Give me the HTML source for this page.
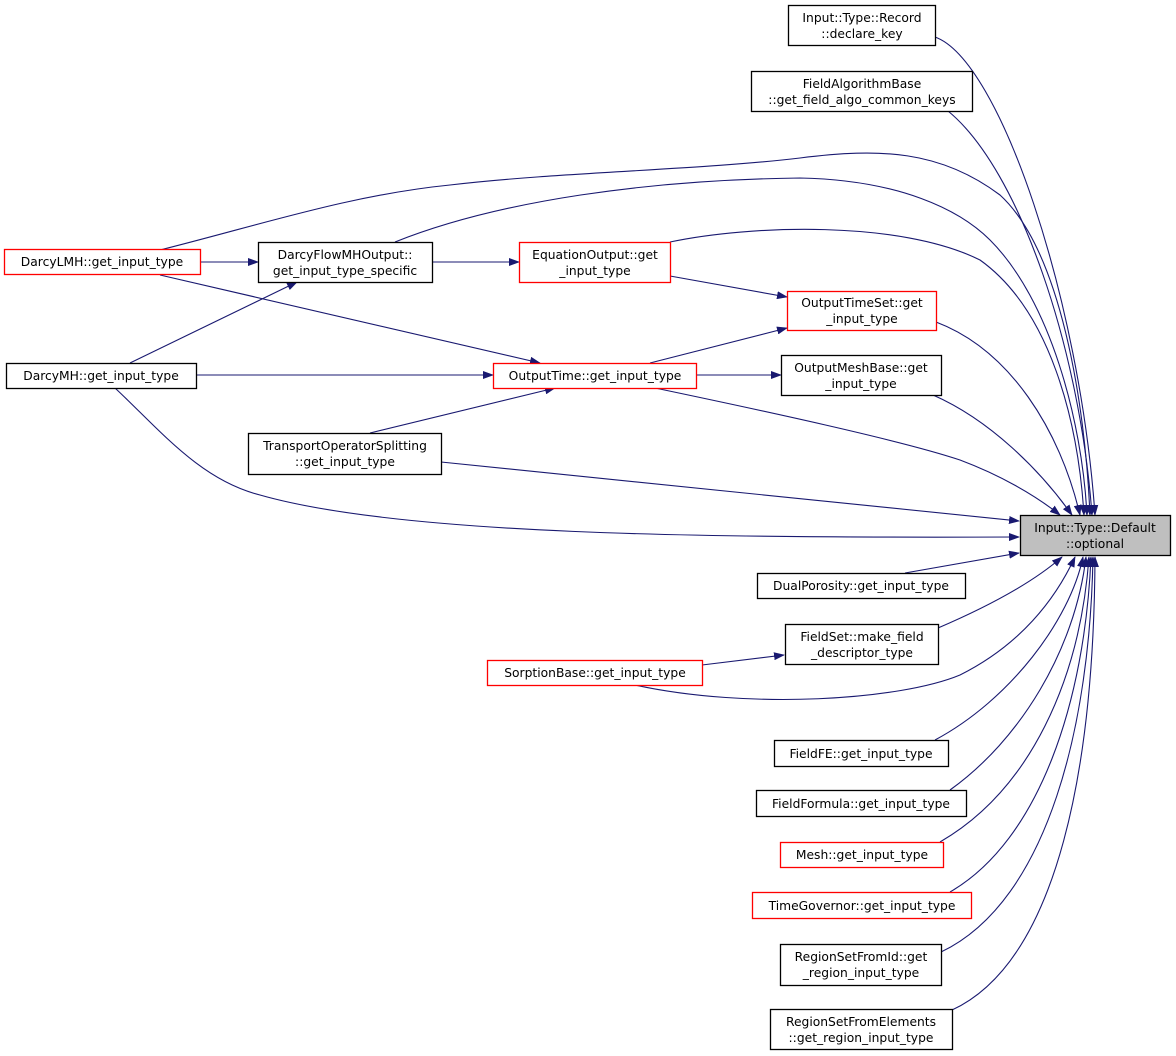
<!DOCTYPE html>
<html><head><meta charset="utf-8"><style>
html,body{margin:0;padding:0;background:#fff;}
svg{display:block;}
text{font-family:"DejaVu Sans","Liberation Sans",sans-serif;font-size:12.3px;fill:#000;}
</style></head><body>
<svg width="1176" height="1056" viewBox="0 0 1176 1056" xmlns="http://www.w3.org/2000/svg">
<defs>
<marker id="a" markerWidth="11" markerHeight="8" refX="10" refY="4" orient="auto" markerUnits="userSpaceOnUse">
<path d="M0,0 L11,4 L0,8 z" fill="#191970"/>
</marker>
</defs>
<g fill="none" stroke="#191970" stroke-width="1.1" marker-end="url(#a)">
<path d="M935,37 C1000,60 1080,300 1095,515"/>
<path d="M948,111 C1020,170 1080,350 1092,515"/>
<path d="M160,250 C260,225 350,195 450,185 C560,172 700,170 800,158 C880,148 940,150 1000,195 C1060,250 1085,400 1090,515"/>
<path d="M395,242 C500,200 650,180 800,178 C900,180 960,210 990,240 C1050,300 1082,420 1087,515"/>
<path d="M670,242 C750,225 900,220 980,260 C1050,310 1078,420 1084,515"/>
<path d="M936,322 C1010,350 1060,430 1080,515"/>
<path d="M933,395 C990,420 1040,470 1072,515"/>
<path d="M655,388 C760,410 900,440 960,460 C1000,475 1035,495 1060,515"/>
<path d="M441,462 L1019,521"/>
<path d="M115,388 C160,430 200,480 260,495 C400,535 700,538 1019,537"/>
<path d="M905,573 L1019,553"/>
<path d="M938,628 C980,610 1030,585 1062,557"/>
<path d="M635,685 C750,710 900,700 960,675 C1020,645 1055,600 1075,557"/>
<path d="M935,740 C1010,700 1070,620 1083,557"/>
<path d="M950,790 C1020,740 1075,650 1086,557"/>
<path d="M940,842 C1030,790 1080,680 1089,557"/>
<path d="M950,892 C1040,840 1085,700 1091,557"/>
<path d="M941,952 C1050,900 1090,720 1093,557"/>
<path d="M952,1010 C1060,960 1094,760 1095,557"/>
<path d="M201,262 L258,262"/>
<path d="M432,262 L519,262"/>
<path d="M670,276 L787,297"/>
<path d="M650,363 L787,328"/>
<path d="M130,363 L297,282"/>
<path d="M160,275 L540,363"/>
<path d="M197,375 L493,375"/>
<path d="M696,375 L781,375"/>
<path d="M370,433 L555,388"/>
<path d="M702,665 L784,655"/>
</g>
<g stroke-width="1.3" fill="#fff">
<rect x="788.5" y="5.5" width="147" height="40" stroke="#000"/>
<rect x="751.5" y="71.5" width="221" height="40" stroke="#000"/>
<rect x="4.5" y="249.5" width="196" height="25" stroke="#f00"/>
<rect x="258.5" y="242.5" width="174" height="40" stroke="#000"/>
<rect x="519.5" y="242.5" width="151" height="40" stroke="#f00"/>
<rect x="787.5" y="291.5" width="149" height="39" stroke="#f00"/>
<rect x="6.5" y="363.5" width="190" height="25" stroke="#000"/>
<rect x="493.5" y="363.5" width="203" height="25" stroke="#f00"/>
<rect x="781.5" y="355.5" width="160" height="40" stroke="#000"/>
<rect x="248.5" y="433.5" width="193" height="41" stroke="#000"/>
<rect x="1020.5" y="515.5" width="150" height="40" stroke="#000" fill="#bfbfbf"/>
<rect x="757.5" y="573.5" width="208" height="25" stroke="#000"/>
<rect x="785.5" y="624.5" width="153" height="40" stroke="#000"/>
<rect x="487.5" y="660.5" width="215" height="25" stroke="#f00"/>
<rect x="774.5" y="740.5" width="174" height="26" stroke="#000"/>
<rect x="756.5" y="790.5" width="210" height="26" stroke="#000"/>
<rect x="780.5" y="842.5" width="163" height="25" stroke="#f00"/>
<rect x="752.5" y="892.5" width="219" height="26" stroke="#f00"/>
<rect x="780.5" y="944.5" width="161" height="41" stroke="#000"/>
<rect x="770.5" y="1009.5" width="182" height="40" stroke="#000"/>
</g>
<g text-anchor="middle">
<text x="862" y="22">Input::Type::Record</text><text x="862" y="38">::declare_key</text>
<text x="862" y="88">FieldAlgorithmBase</text><text x="862" y="104">::get_field_algo_common_keys</text>
<text x="102" y="266">DarcyLMH::get_input_type</text>
<text x="345" y="259">DarcyFlowMHOutput::</text><text x="345" y="275">get_input_type_specific</text>
<text x="595" y="259">EquationOutput::get</text><text x="595" y="275">_input_type</text>
<text x="862" y="307">OutputTimeSet::get</text><text x="862" y="323">_input_type</text>
<text x="101" y="380">DarcyMH::get_input_type</text>
<text x="595" y="380">OutputTime::get_input_type</text>
<text x="861" y="372">OutputMeshBase::get</text><text x="861" y="388">_input_type</text>
<text x="345" y="450">TransportOperatorSplitting</text><text x="345" y="466">::get_input_type</text>
<text x="1095" y="532">Input::Type::Default</text><text x="1095" y="548">::optional</text>
<text x="861" y="590">DualPorosity::get_input_type</text>
<text x="862" y="641">FieldSet::make_field</text><text x="862" y="657">_descriptor_type</text>
<text x="595" y="677">SorptionBase::get_input_type</text>
<text x="861" y="758">FieldFE::get_input_type</text>
<text x="861" y="808">FieldFormula::get_input_type</text>
<text x="862" y="859">Mesh::get_input_type</text>
<text x="862" y="910">TimeGovernor::get_input_type</text>
<text x="861" y="961">RegionSetFromId::get</text><text x="861" y="977">_region_input_type</text>
<text x="861" y="1026">RegionSetFromElements</text><text x="861" y="1042">::get_region_input_type</text>
</g>
</svg>
</body></html>
